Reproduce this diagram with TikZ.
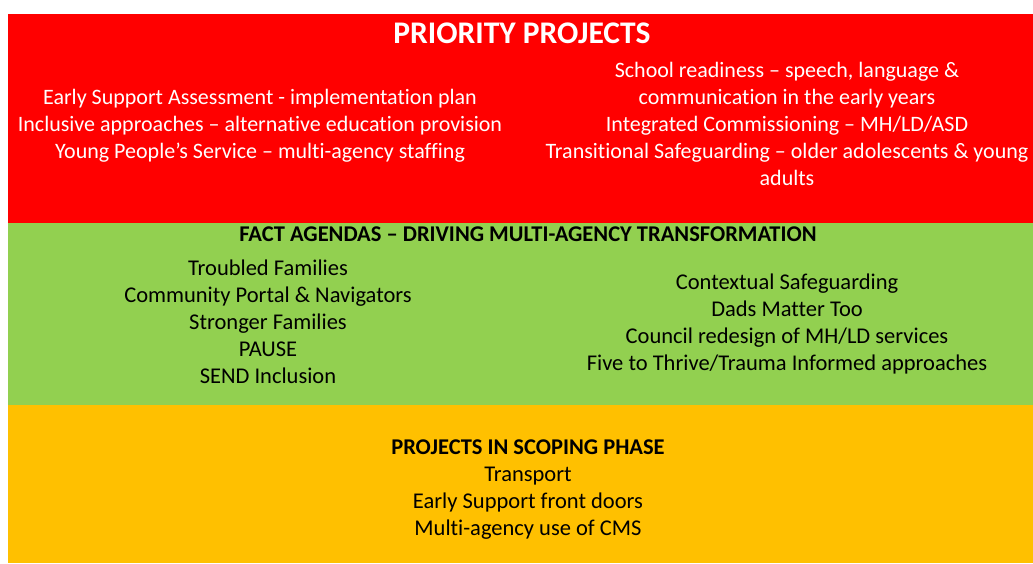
\documentclass[tikz,border=0pt]{standalone}
\usepackage{fontspec}
\setmainfont{Carlito}[Ligatures={NoCommon}]
\definecolor{bandred}{HTML}{FF0000}
\definecolor{bandgreen}{HTML}{92D050}
\definecolor{bandorange}{HTML}{FFC000}
\tikzset{
  band/.style={draw=none},
  body/.style={anchor=base, inner sep=0pt, font=\fontsize{22}{26}\selectfont},
  whitebody/.style={body, text=white},
  blackbody/.style={body, text=black, font=\fontsize{22.5}{26}\selectfont},
  title/.style={anchor=base, inner sep=0pt, text=white, font=\fontsize{31.5}{36}\selectfont\bfseries},
  header/.style={anchor=base, inner sep=0pt, text=black, font=\fontsize{22.5}{26}\selectfont\bfseries},
}
\begin{document}
\begin{tikzpicture}[x=1pt,y=-1pt]
\useasboundingbox (0,0) rectangle (1033,563);
\fill[band, white] (0,0) rectangle (1033,563);
% bands
\fill[band, bandred] (8,14) rectangle (1033,223);
\fill[band, bandgreen] (8,223) rectangle (1033,405);
\fill[band, bandorange] (8,405) rectangle (1033,563);
% red band
\node[title] (ptitle) at (522,43) {PRIORITY PROJECTS};
\foreach \t [count=\i] in {Early Support Assessment - implementation plan,
  Inclusive approaches – alternative education provision,
  Young People’s Service – multi-agency staffing}
  {\node[whitebody] (pl\i) at (260,{104+27*(\i-1)}) {\t};}
\foreach \t [count=\i] in {{School readiness – speech, language \&},
  communication in the early years,
  Integrated Commissioning – MH/LD/ASD,
  Transitional Safeguarding – older adolescents \& young,
  adults}
  {\node[whitebody] (pr\i) at (787,{77+27*(\i-1)}) {\t};}
% green band
\node[header] (ftitle) at (528,241) {FACT AGENDAS – DRIVING MULTI-AGENCY TRANSFORMATION};
\foreach \t [count=\i] in {Troubled Families,
  Community Portal \& Navigators,
  Stronger Families,
  PAUSE,
  SEND Inclusion}
  {\node[blackbody] (fl\i) at (268,{275+27*(\i-1)}) {\t};}
\foreach \t [count=\i] in {Contextual Safeguarding,
  Dads Matter Too,
  Council redesign of MH/LD services,
  Five to Thrive/Trauma Informed approaches}
  {\node[blackbody] (fr\i) at (787,{289+27*(\i-1)}) {\t};}
% orange band
\node[header] (stitle) at (528,454) {PROJECTS IN SCOPING PHASE};
\foreach \t [count=\i] in {Transport,
  Early Support front doors,
  Multi-agency use of CMS}
  {\node[blackbody] (s\i) at (528,{481+27*(\i-1)}) {\t};}
\end{tikzpicture}
\end{document}
